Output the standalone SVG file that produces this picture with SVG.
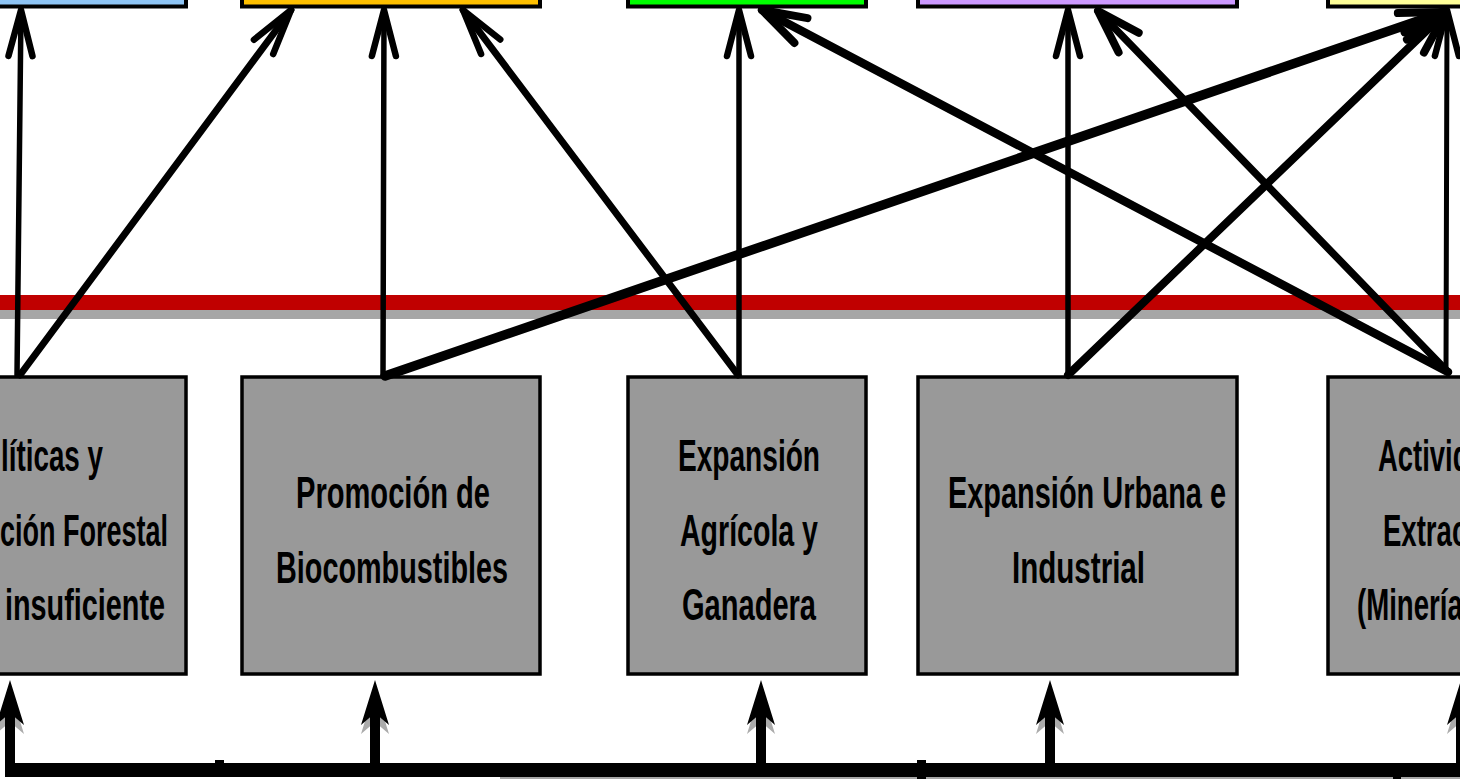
<svg xmlns="http://www.w3.org/2000/svg" width="1460" height="779" viewBox="0 0 1460 779">
<defs>
<style>
.top{stroke:#000;stroke-width:4}
.cause{fill:#999999;stroke:#000;stroke-width:3.5}
.t{font-family:"Liberation Sans Narrow","Liberation Sans",Arial,sans-serif;font-weight:bold;font-size:44px;fill:#000}
.c{fill:none;stroke:#000;stroke-linecap:round}
.ah{fill:#000}
.sh{fill:#ABABAB}
</style>
<marker id="a1" markerUnits="userSpaceOnUse" viewBox="-60 -25 70 50" markerWidth="70" markerHeight="50" refX="0" refY="0" orient="auto" overflow="visible">
<path d="M-46,-12 L0,0 L-46,12" fill="none" stroke="#000" stroke-width="6.5" stroke-linecap="round" stroke-linejoin="round"/>
</marker>
<marker id="a2" markerUnits="userSpaceOnUse" viewBox="-60 -25 70 50" markerWidth="70" markerHeight="50" refX="0" refY="0" orient="auto" overflow="visible">
<path d="M-44,-14 L0,0 L-44,14" fill="none" stroke="#000" stroke-width="8" stroke-linecap="round" stroke-linejoin="round"/>
</marker>
<path id="bh" d="M0,0 L14,45 L0,33 L-14,45 Z"/>
</defs>
<rect width="1460" height="779" fill="#fff"/>

<!-- red separator band -->
<rect x="0" y="310" width="1460" height="9" fill="#A6A6A6"/>
<rect x="0" y="295" width="1460" height="15" fill="#C00000"/>

<!-- top effect boxes (only bottom visible) -->
<g id="effect-blue"><rect class="top" x="-120" y="-100" width="306" height="106.5" fill="#8EC4F4"/></g>
<g id="effect-orange"><rect class="top" x="242" y="-100" width="298" height="106.5" fill="#FFC000"/></g>
<g id="effect-green"><rect class="top" x="628" y="-100" width="238" height="106.5" fill="#00FF00"/></g>
<g id="effect-purple"><rect class="top" x="918" y="-100" width="319" height="106.5" fill="#CC99FF"/></g>
<g id="effect-yellow"><rect class="top" x="1328" y="-100" width="300" height="106.5" fill="#FFFF99"/></g>

<!-- cause boxes -->
<g id="cause-politicas">
<rect class="cause" x="-112" y="377" width="298" height="297"/>
<text class="t" x="1" y="471" textLength="102" lengthAdjust="spacingAndGlyphs">líticas y</text>
<text class="t" x="0" y="546" textLength="168" lengthAdjust="spacingAndGlyphs">ción Forestal</text>
<text class="t" x="5" y="620" textLength="160" lengthAdjust="spacingAndGlyphs">insuficiente</text>
</g>
<g id="cause-biocombustibles">
<rect class="cause" x="242" y="377" width="298" height="297"/>
<text class="t" x="296" y="508" textLength="194" lengthAdjust="spacingAndGlyphs">Promoción de</text>
<text class="t" x="276" y="583" textLength="232" lengthAdjust="spacingAndGlyphs">Biocombustibles</text>
</g>
<g id="cause-agricola">
<rect class="cause" x="628" y="377" width="238" height="297"/>
<text class="t" x="678" y="471" textLength="142" lengthAdjust="spacingAndGlyphs">Expansión</text>
<text class="t" x="680" y="546" textLength="138" lengthAdjust="spacingAndGlyphs">Agrícola y</text>
<text class="t" x="682" y="620" textLength="134" lengthAdjust="spacingAndGlyphs">Ganadera</text>
</g>
<g id="cause-urbana">
<rect class="cause" x="918" y="377" width="319" height="297"/>
<text class="t" x="948" y="508" textLength="278" lengthAdjust="spacingAndGlyphs">Expansión Urbana e</text>
<text class="t" x="1012" y="583" textLength="133" lengthAdjust="spacingAndGlyphs">Industrial</text>
</g>
<g id="cause-extractivas">
<rect class="cause" x="1328" y="377" width="300" height="297"/>
<text class="t" x="1378" y="471" textLength="154" lengthAdjust="spacingAndGlyphs">Actividades</text>
<text class="t" x="1383" y="546" textLength="147" lengthAdjust="spacingAndGlyphs">Extractivas</text>
<text class="t" x="1357" y="620" textLength="115" lengthAdjust="spacingAndGlyphs">(Minería)</text>
</g>

<!-- base bar -->
<g id="base">
<rect x="500" y="776" width="960" height="3" fill="#A6A6A6"/>
<rect x="5" y="763" width="1455" height="14" fill="#000"/>
<rect x="215" y="760" width="9" height="4" fill="#000"/>
<rect x="917" y="760" width="9" height="19" fill="#000"/>
<rect x="1393" y="776" width="8" height="3" fill="#000"/>
</g>

<!-- connectors -->
<g id="connectors">
<path class="c" stroke-width="5.5" d="M17,375 L21,10" marker-end="url(#a1)"/>
<path class="c" stroke-width="7" d="M20,375 L291,10" marker-end="url(#a1)"/>
<path class="c" stroke-width="5.5" d="M383,375 L384,10" marker-end="url(#a1)"/>
<path class="c" stroke-width="7" d="M738,375 L463,10" marker-end="url(#a1)"/>
<path class="c" stroke-width="5.5" d="M739,375 L739,10" marker-end="url(#a1)"/>
<path class="c" stroke-width="9.5" d="M385,376 L1444,12" marker-end="url(#a2)"/>
<path class="c" stroke-width="5.5" d="M1068,375 L1068,10" marker-end="url(#a1)"/>
<path class="c" stroke-width="8" d="M1068,375 L1446,12" marker-end="url(#a2)"/>
<path class="c" stroke-width="7.5" d="M1448,372 L1098,11" marker-end="url(#a2)"/>
<path class="c" stroke-width="8.5" d="M1448,372 L762,10" marker-end="url(#a2)"/>
<path class="c" stroke-width="5" d="M1446,372 L1447,10" marker-end="url(#a1)"/>

<!-- bottom arrows with shadows -->
<use href="#bh" class="sh" x="10" y="689"/>
<rect x="5" y="705" width="10" height="58" fill="#000"/>
<use href="#bh" class="ah" x="10" y="680"/>

<use href="#bh" class="sh" x="375" y="689"/>
<rect x="370" y="705" width="10" height="58" fill="#000"/>
<use href="#bh" class="ah" x="375" y="680"/>

<use href="#bh" class="sh" x="761" y="689"/>
<rect x="756" y="705" width="10" height="58" fill="#000"/>
<use href="#bh" class="ah" x="761" y="680"/>

<use href="#bh" class="sh" x="1050" y="689"/>
<rect x="1045" y="705" width="10" height="58" fill="#000"/>
<use href="#bh" class="ah" x="1050" y="680"/>

<use href="#bh" class="sh" x="1461" y="689"/>
<rect x="1456" y="705" width="10" height="58" fill="#000"/>
<use href="#bh" class="ah" x="1461" y="680"/>
</g>
</svg>
